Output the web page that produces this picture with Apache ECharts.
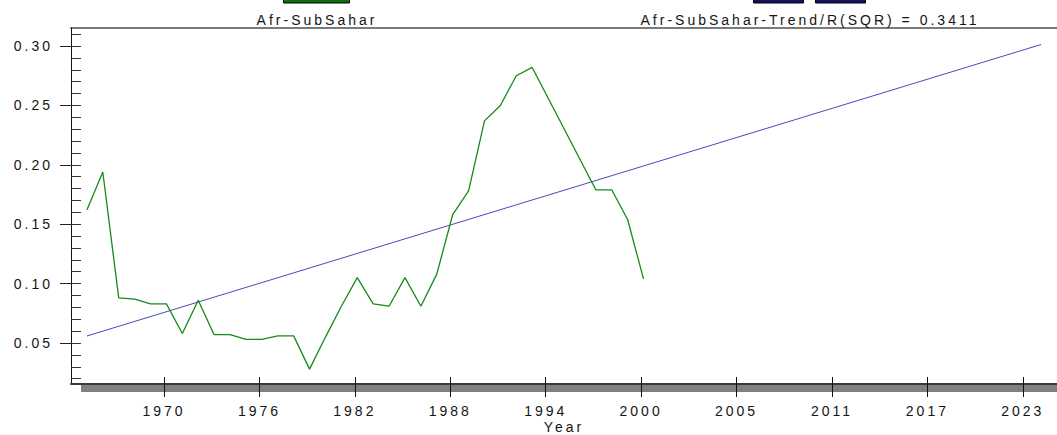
<!DOCTYPE html>
<html>
<head>
<meta charset="utf-8">
<script src="https://cdn.jsdelivr.net/npm/echarts@6/dist/echarts.min.js"></script>
<style>
  html, body { margin: 0; padding: 0; background: #ffffff; }
  #chart { width: 1057px; height: 435px; }
  #chart text { letter-spacing: 3px; }
</style>
</head>
<body>
<div id="chart"></div>
<script>
// Sub-Saharan Africa series, one value per year (gaps are joined by the line)
const YEARS = [
  1965, 1966, 1967, 1968, 1969, 1970, 1971, 1972, 1973, 1974, 1975, 1976,
  1977, 1978, 1979, 1980, 1981, 1982, 1983, 1984, 1985, 1986, 1987, 1988,
  1989, 1990, 1991, 1992, 1993, 1994, 1995, 1996, 1997, 1998, 1999, 2000
];
const AFR_SUBSAHAR = [
  0.162, 0.194, 0.088, 0.087, 0.083, 0.083, 0.058, 0.086, 0.057, 0.057, 0.053, 0.053,
  0.056, 0.056, 0.028, 0.055, 0.081, 0.105, 0.083, 0.081, 0.105, 0.081, 0.108, 0.158,
  0.178, 0.237, 0.250, 0.275, 0.282, null, null, null, 0.179, 0.179, 0.154, 0.104
];

// Linear trend line, start and end points
const TREND_YEARS = [1965, 2025];
const TREND_VALUES = [0.0559, 0.3013];

// Axis tick labels
const X_TICK_LABELS = ['1970', '1976', '1982', '1988', '1994', '2000', '2005', '2011', '2017', '2023'];
const Y_TICK_VALUES = [0.05, 0.10, 0.15, 0.20, 0.25, 0.30];
const Y_MINOR_VALUES = [0.02, 0.03, 0.04, 0.05, 0.06, 0.07, 0.08, 0.09, 0.10, 0.11, 0.12, 0.13,
  0.14, 0.15, 0.16, 0.17, 0.18, 0.19, 0.20, 0.21, 0.22, 0.23, 0.24, 0.25, 0.26, 0.27, 0.28,
  0.29, 0.30, 0.31];

const SERIES_NAME = 'Afr-SubSahar';
const TREND_NAME = 'Afr-SubSahar-Trend/R(SQR) = 0.3411';

const FONT = "'Liberation Sans', Arial, sans-serif";
const TEXT_COLOR = '#151515';

// tick positions along the year scale
const X_TICK_FIRST = 1969.85;
const X_TICK_STEP = 6;
const xTickPositions = X_TICK_LABELS.map((_, i) => +(X_TICK_FIRST + i * X_TICK_STEP).toFixed(3));
function xLabelFor(value) {
  for (let i = 0; i < xTickPositions.length; i++) {
    if (Math.abs(value - xTickPositions[i]) < 0.01) return X_TICK_LABELS[i];
  }
  return '';
}

const X_MIN = 1964, X_MAX = 2026;
const Y_MIN = 0.0155, Y_MAX = 0.3152;

const chart = echarts.init(document.getElementById('chart'), null, { renderer: 'svg' });

chart.setOption({
  animation: false,
  backgroundColor: '#ffffff',
  grid: { left: 71, right: 0, top: 28, bottom: 51, containLabel: false, outerBoundsMode: 'none' },
  xAxis: [
    {
      type: 'value', position: 'bottom', min: X_MIN, max: X_MAX, z: 4,
      name: 'Year', nameLocation: 'middle', nameGap: 36, nameMoveOverlap: false,
      nameTextStyle: { fontFamily: FONT, fontSize: 14, color: TEXT_COLOR, lineHeight: 14 },
      axisLine: { show: true, lineStyle: { color: '#3a3a3a', width: 2 } },
      axisTick: { show: true, inside: false, length: 13, customValues: xTickPositions,
        lineStyle: { color: '#111', width: 1 } },
      axisLabel: { show: true, customValues: xTickPositions, margin: 20,
        formatter: xLabelFor, fontFamily: FONT, fontSize: 14, color: TEXT_COLOR },
      splitLine: { show: false }
    },
    {
      type: 'value', position: 'bottom', min: X_MIN, max: X_MAX, z: 4,
      axisLine: { show: false },
      axisTick: { show: true, inside: true, length: 7, customValues: xTickPositions,
        lineStyle: { color: '#111', width: 1 } },
      axisLabel: { show: false },
      splitLine: { show: false }
    },
    {
      type: 'value', position: 'top', min: X_MIN, max: X_MAX,
      axisLine: { show: true, lineStyle: { color: '#7a7a7a', width: 2 } },
      axisTick: { show: false }, axisLabel: { show: false }, splitLine: { show: false }
    }
  ],
  yAxis: [
    {
      type: 'value', position: 'left', min: Y_MIN, max: Y_MAX, z: 4,
      axisLine: { show: true, lineStyle: { color: '#111', width: 1 } },
      axisTick: { show: true, inside: false, length: 11, customValues: Y_TICK_VALUES,
        lineStyle: { color: '#222', width: 1 } },
      axisLabel: { show: true, customValues: Y_TICK_VALUES, margin: 18,
        formatter: v => v.toFixed(2), fontFamily: FONT, fontSize: 14, color: TEXT_COLOR },
      splitLine: { show: false }
    },
    {
      type: 'value', position: 'left', min: Y_MIN, max: Y_MAX, z: 4,
      axisLine: { show: false },
      axisTick: { show: true, inside: true, length: 10, customValues: Y_MINOR_VALUES,
        lineStyle: { color: '#333', width: 1 } },
      axisLabel: { show: false },
      splitLine: { show: false }
    }
  ],
  series: [
    {
      name: TREND_NAME, type: 'line', xAxisIndex: 0, yAxisIndex: 0,
      data: TREND_YEARS.map((y, i) => [y, TREND_VALUES[i]]),
      showSymbol: false, symbol: 'none', z: 2,
      lineStyle: { color: '#4a4ab8', width: 1 }
    },
    {
      name: SERIES_NAME, type: 'line', xAxisIndex: 0, yAxisIndex: 0,
      data: YEARS.map((y, i) => [y, AFR_SUBSAHAR[i]]),
      connectNulls: true, showSymbol: false, symbol: 'none', z: 3,
      lineStyle: { color: '#168a16', width: 1.3 }
    }
  ],
  graphic: [
    // shaded band under the year axis
    { type: 'rect', z: 1, shape: { x: 81, y: 385, width: 976, height: 7 },
      style: { fill: '#808080' } },
    // legend swatches and captions
    { type: 'rect', z: 10, shape: { x: 283.5, y: -8, width: 66, height: 11 },
      style: { fill: '#0c6e0c', stroke: '#000', lineWidth: 1 } },
    { type: 'text', z: 10, x: 317, y: 20,
      style: { text: SERIES_NAME, fill: TEXT_COLOR, font: '14px ' + FONT,
        textAlign: 'center', textVerticalAlign: 'middle' } },
    { type: 'rect', z: 10, shape: { x: 753.5, y: -8, width: 50, height: 11 },
      style: { fill: '#12125e', stroke: '#000', lineWidth: 1 } },
    { type: 'rect', z: 10, shape: { x: 815.5, y: -8, width: 50, height: 11 },
      style: { fill: '#12125e', stroke: '#000', lineWidth: 1 } },
    { type: 'text', z: 10, x: 810, y: 20,
      style: { text: TREND_NAME, fill: TEXT_COLOR, font: '14px ' + FONT,
        textAlign: 'center', textVerticalAlign: 'middle' } }
  ]
});
</script>
</body>
</html>
